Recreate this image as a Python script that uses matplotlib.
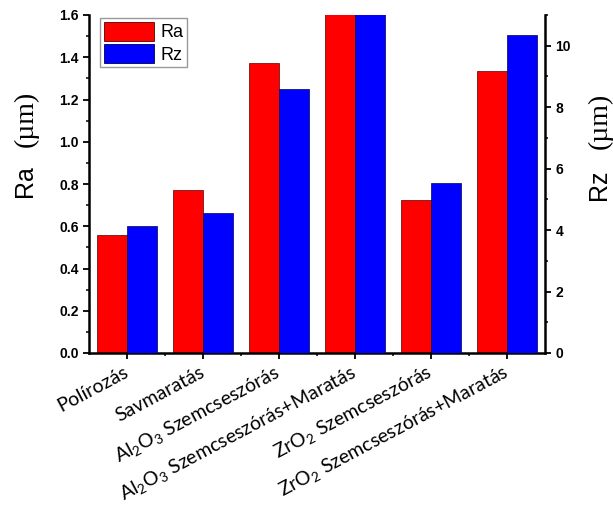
import matplotlib
matplotlib.use("Agg")
import matplotlib.pyplot as plt
import numpy as np
from matplotlib.ticker import MultipleLocator, FixedLocator
from matplotlib.patches import Patch

plt.rcParams['mathtext.default'] = 'regular'

categories = [
    'Polírozás',
    'Savmaratás',
    r'Al$_\mathregular{2}$O$_\mathregular{3}$ Szemcseszórás',
    r'Al$_\mathregular{2}$O$_\mathregular{3}$ Szemcseszórás+Maratás',
    r'ZrO$_\mathregular{2}$ Szemcseszórás',
    r'ZrO$_\mathregular{2}$ Szemcseszórás+Maratás',
]
ra_values = [0.56, 0.77, 1.375, 1.65, 0.725, 1.335]
rz_values = [4.13, 4.55, 8.58, 11.4, 5.54, 10.35]
ra_ticks = [0.0, 0.2, 0.4, 0.6, 0.8, 1.0, 1.2, 1.4, 1.6]
rz_ticks = [0, 2, 4, 6, 8, 10]

RED = '#ff0000'
BLUE = '#0000ff'

fig = plt.figure(figsize=(6.13, 5.08), dpi=100)
ax = fig.add_axes([89/613, 1 - 353/508, (545-89)/613, (353-15)/508])
ax2 = ax.twinx()

x = np.arange(len(categories))
w = 0.4
ax.bar(x - w/2, ra_values, w, color=RED, edgecolor='#550000', linewidth=0.5)
ax2.bar(x + w/2, rz_values, w, color=BLUE, edgecolor='#000055', linewidth=0.5)

ax.set_xlim(-0.5, 5.5)
ax.set_ylim(0, 1.6)
ax2.set_ylim(0, 11)

ax.set_yticks(ra_ticks)
ax.set_yticklabels([f'{v:.1f}' for v in ra_ticks])
ax.yaxis.set_minor_locator(MultipleLocator(0.1))
ax2.set_yticks(rz_ticks)
ax2.set_yticklabels([str(v) for v in rz_ticks])
ax2.yaxis.set_minor_locator(MultipleLocator(1))

ax.set_xticks(x)
ax.xaxis.set_minor_locator(FixedLocator(x[:-1] + 0.5))
ax.set_xticklabels(categories, rotation=28, ha='right', va='center',
                   rotation_mode='anchor', fontsize=14, family='Lato')

for a in (ax, ax2):
    a.spines['top'].set_visible(False)
ax.spines['right'].set_visible(False)
ax2.spines['left'].set_visible(False)
ax2.spines['bottom'].set_visible(False)
for s in ('left', 'bottom'):
    ax.spines[s].set_linewidth(1.8)
ax2.spines['right'].set_linewidth(1.8)

ax.tick_params(axis='both', which='major', direction='out', length=4, width=1.3)
ax.tick_params(axis='both', which='minor', direction='out', length=2.5, width=1.1)
ax.tick_params(axis='x', which='major', pad=9)
ax2.tick_params(axis='y', which='major', direction='out', length=4, width=1.3)
ax2.tick_params(axis='y', which='minor', direction='out', length=2.5, width=1.1)

for lab in ax.get_yticklabels() + ax2.get_yticklabels():
    lab.set_fontweight('bold')
    lab.set_fontsize(10)
    lab.set_family('Liberation Sans')

# axis titles
ax.text(-0.14, 0.509, 'Ra', transform=ax.transAxes, rotation=90, ha='center', va='center',
        fontsize=18, family='Liberation Sans')
ax.text(-0.137, 0.694, '(µm)', transform=ax.transAxes, rotation=90, ha='center', va='center',
        fontsize=20, family='Liberation Serif')
ax.text(1.118, 0.497, 'Rz', transform=ax.transAxes, rotation=90, ha='center', va='center',
        fontsize=18, family='Liberation Sans')
ax.text(1.121, 0.686, '(µm)', transform=ax.transAxes, rotation=90, ha='center', va='center',
        fontsize=20, family='Liberation Serif')

handles = [Patch(facecolor=RED, edgecolor='#550000', linewidth=0.6),
           Patch(facecolor=BLUE, edgecolor='#000055', linewidth=0.6)]
leg = ax2.legend(handles, ['Ra', 'Rz'], loc='upper left',
                 bbox_to_anchor=((100-89)/456, (353-18)/338), borderaxespad=0,
                 prop={'family': 'Liberation Sans', 'size': 13},
                 handlelength=2.8, handleheight=1.25, labelspacing=0.15,
                 handletextpad=0.35, borderpad=0.2, fancybox=False,
                 framealpha=1, edgecolor='#999999')
leg.get_frame().set_linewidth(1.0)

fig.savefig('out.png', dpi=100)
